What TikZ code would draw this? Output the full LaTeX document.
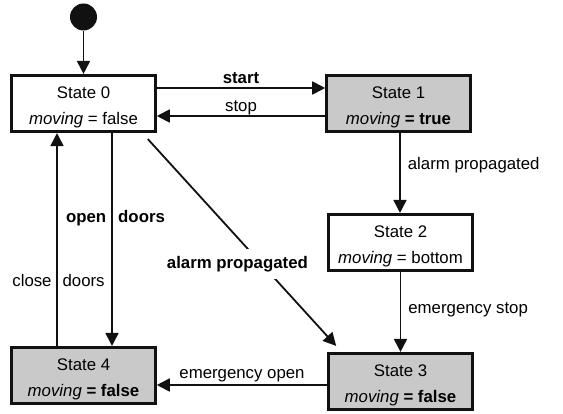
\documentclass[tikz,border=0pt]{standalone}
\usepackage{fontspec}
\setmainfont{Liberation Sans}
\usepackage{tikz}
\usetikzlibrary{arrows.meta,calc}
\definecolor{ink}{HTML}{111111}
\definecolor{boxgray}{HTML}{C9C9C9}
\newcommand{\sline}{\rule{0pt}{19.5pt}}
\tikzset{
  state/.style={draw=ink, line width=2.6pt, minimum width=144pt, minimum height=56.5pt,
    align=center, inner sep=0pt, font=\fontsize{16.8pt}{26pt}\selectfont},
  busy/.style={state, fill=boxgray},
  trans/.style={draw=ink, line width=1.8pt, -{Triangle[length=13pt,width=13pt]}},
  lab/.style={font=\fontsize{16.8pt}{20pt}\selectfont, text height=12pt, text depth=3.5pt, inner sep=2pt},
  blab/.style={lab, font=\fontsize{16.8pt}{20pt}\selectfont\bfseries},
  initdot/.style={circle, fill=ink, minimum size=27pt, inner sep=0pt}
}

\begin{document}
\begin{tikzpicture}[x=1pt, y=-1pt]
  \useasboundingbox (0,0) rectangle (563,414);
  \fill[white] (0,0) rectangle (563,414);

  \node[initdot] (init) at (83.5,17) {};
  \node[state] (s0) at (83.5,103.5) {\sline State 0\\\textit{moving} = false};
  \node[busy]  (s1) at (398.5,103.5) {\sline State 1\\\textit{moving} \textbf{= true}};
  \node[state] (s2) at (400.5,242.5) {\sline State 2\\\textit{moving} = bottom};
  \node[busy]  (s3) at (400.5,381.5) {\sline State 3\\\textit{moving} \textbf{= false}};
  \node[busy]  (s4) at (83.5,375.5) {\sline State 4\\\textit{moving} \textbf{= false}};

  \draw[trans] (init) -- (s0);
  \draw[trans] ([yshift=15.5pt]s0.east) -- node[blab,above,yshift=-2pt] {start} ([yshift=15.5pt]s1.west);
  \draw[trans] ([yshift=-12.5pt]s1.west) -- node[lab,above,yshift=-2pt] {stop} ([yshift=-12.5pt]s0.east);
  \draw[trans] ([xshift=1.5pt]s1.south) -- node[lab,right=5pt,pos=.4] {alarm propagated} ([xshift=1.5pt]s1.south |- s2.north);
  \draw[trans] (s2) -- node[lab,right=5pt,pos=.47] {emergency stop} (s3);
  \draw[trans] ([yshift=-3.5pt]s3.west) -- node[lab,above] {emergency open} ([yshift=-3.5pt]s3.west -| s4.east);

  % doors: the line runs through the gap between the two words
  \draw[trans] ([xshift=28.5pt]s0.south) -- node[blab,pos=.40,xshift=3.5pt] {open\hspace{12pt}doors} ([xshift=28.5pt]s4.north);
  \draw[trans] ([xshift=-26.5pt]s4.north) -- node[lab,pos=.30,xshift=1.5pt] {close\hspace{11pt}doors} ([xshift=-26.5pt]s0.south);

  \draw[trans] ([xshift=-9pt,yshift=-6pt]s0.south east)
    -- node[blab,pos=.603,fill=white,inner ysep=7pt,xshift=-24pt] {alarm propagated}
    ([xshift=9pt,yshift=6pt]s3.north west);
\end{tikzpicture}
\end{document}
